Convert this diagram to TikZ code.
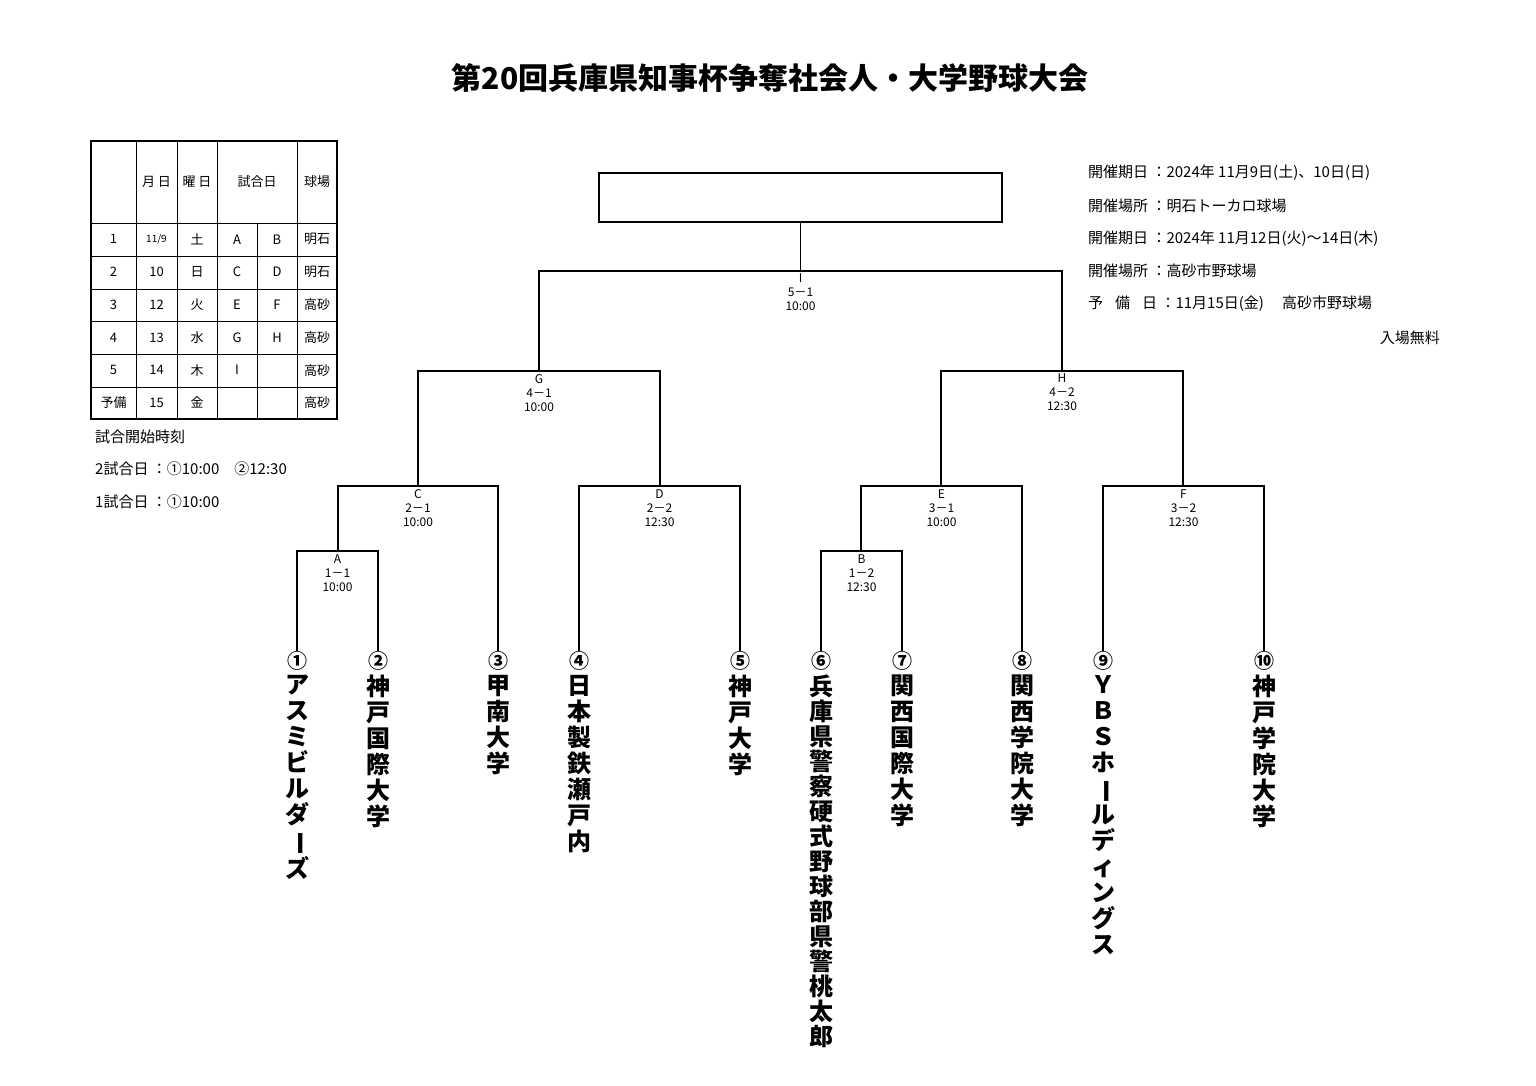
\documentclass[tikz,border=0pt]{standalone}
\usepackage{fontspec}
\setmainfont{Noto Sans CJK JP}
\usepackage{graphicx}
\newcommand{\vb}{\rotatebox[origin=c]{-90}{ー}}
\begin{document}
\begin{tikzpicture}[x=1pt,y=-1pt,
 ln/.style={line width=1.2pt,line cap=rect},
 lab/.style={font=\fontsize{12}{14}\selectfont,align=center,anchor=north,inner sep=0pt},
 team/.style={font=\fontsize{24}{26}\selectfont\bfseries,align=center,anchor=north,inner sep=0pt},
 cn/.style={font=\fontsize{20}{22}\selectfont\bfseries,inner sep=0pt},
 info/.style={font=\fontsize{15}{17}\selectfont,anchor=west,inner sep=0pt},
 cell/.style={font=\fontsize{13}{15}\selectfont,inner sep=0pt}]
\useasboundingbox (0,0) rectangle (1536,1086);
\fill[white] (0,0) rectangle (1536,1086);
\node[font=\fontsize{30}{32}\selectfont\bfseries] (title) at (770,78) {第20回兵庫県知事杯争奪社会人・大学野球大会};
% final box
\draw[ln] (599,173) rectangle (1002,222);
\coordinate (top) at (800,222);
% team coordinates
\foreach \i/\x in {1/297,2/378,3/498,4/579,5/740,6/821,7/902,8/1022,9/1103,10/1264}{
  \coordinate (t\i) at (\x,650);
}
% brackets: name, left x, right x, y, top y, label
\newcommand{\brk}[7]{%
  \draw[ln] (#2,#6) -- (#2,#4) -- (#3,#4) -- (#3,#6);
  \draw[ln] ({(#2+#3)/2},#4) -- ({(#2+#3)/2},#5);
  \node[lab] (#1) at ({(#2+#3)/2},#4+3) {#7};}
\brk{mA}{297}{378}{551}{486}{650}{A\\1－1\\10:00}
\brk{mB}{821}{902}{551}{486}{650}{B\\1－2\\12:30}
\brk{mC}{338}{498}{486}{371}{551}{C\\2－1\\10:00}
\draw[ln] (498,551) -- (498,650);
\brk{mD}{579}{740}{486}{371}{650}{D\\2－2\\12:30}
\brk{mE}{861}{1022}{486}{371}{551}{E\\3－1\\10:00}
\draw[ln] (1022,551) -- (1022,650);
\brk{mF}{1103}{1264}{486}{371}{650}{F\\3－2\\12:30}
\brk{mG}{418}{660}{371}{271}{486}{G\\4－1\\10:00}
\brk{mH}{941}{1183}{371}{271}{486}{H\\4－2\\12:30}
\brk{mI}{539}{1062}{271}{222}{371}{I\\5－1\\10:00}
% circled numbers
\foreach \i/\x/\c in {1/297/①,2/378/②,3/498/③,4/579/④,5/740/⑤,6/821/⑥,7/902/⑦,8/1022/⑧,9/1103/⑨,10/1264/⑩}{
  \node[cn] (c\i) at (\x,661) {\c};
}
\begin{scope}[every node/.style={team}]
\node (n1) at (297,675) {ア\\ス\\ミ\\ビ\\ル\\ダ\\\vb\\ズ};
\node (n2) at (378,675) {神\\戸\\国\\際\\大\\学};
\node (n3) at (498,675) {甲\\南\\大\\学};
\node (n4) at (579,675) {日\\本\\製\\鉄\\瀬\\戸\\内};
\node (n5) at (740,675) {神\\戸\\大\\学};
\node[font=\fontsize{24}{25}\selectfont\bfseries] (n6) at (821,675) {兵\\庫\\県\\警\\察\\硬\\式\\野\\球\\部\\県\\警\\桃\\太\\郎};
\node (n7) at (902,675) {関\\西\\国\\際\\大\\学};
\node (n8) at (1022,675) {関\\西\\学\\院\\大\\学};
\node (n9) at (1103,675) {Ｙ\\Ｂ\\Ｓ\\ホ\\\vb\\ル\\デ\\ィ\\ン\\グ\\ス};
\node (n10) at (1264,675) {神\\戸\\学\\院\\大\\学};
\end{scope}
% info
\node[info] (i1) at (1088,173) {開催期日 ：2024年 11月9日(土)、10日(日)};
\node[info] (i2) at (1088,206) {開催場所 ：明石トーカロ球場};
\node[info] (i3) at (1088,239) {開催期日 ：2024年 11月12日(火)～14日(木)};
\node[info] (i4) at (1088,271) {開催場所 ：高砂市野球場};
\node[info] (i5) at (1088,304) {予\hspace{0.8em}備\hspace{0.8em}日 ：11月15日(金)\hspace{1.2em}高砂市野球場};
\node[info,anchor=east] (i6) at (1440,338) {入場無料};
% table
\draw[line width=1.2pt] (91,141) rectangle (337,419);
\foreach \y in {223,256,289,321,354,387} \draw[line width=1pt] (91,\y) -- (337,\y);
\foreach \x in {136,177,217,297} \draw[line width=1pt] (\x,141) -- (\x,419);
\draw[line width=1pt] (257,223) -- (257,419);
\node[cell] (h1) at (156.5,182) {月 日};
\node[cell] (h2) at (197,182) {曜 日};
\node[cell] (h3) at (257,182) {試合日};
\node[cell] (h4) at (317,182) {球場};
\foreach \r/\a/\b/\c/\d/\e/\f [count=\k] in {1/{\fontsize{10}{12}\selectfont 11/9}/土/A/B/明石, 2/10/日/C/D/明石, 3/12/火/E/F/高砂, 4/13/水/G/H/高砂, 5/14/木/I/{}/高砂, 予備/15/金/{}/{}/高砂}{
  \pgfmathsetmacro\yy{223+32.7*(\k-1)+16.3}
  \node[cell] at (113.5,\yy) {\r};
  \node[cell] at (156.5,\yy) {\a};
  \node[cell] at (197,\yy) {\b};
  \node[cell] at (237,\yy) {\c};
  \node[cell] at (277,\yy) {\d};
  \node[cell] at (317,\yy) {\e};
}
\node[info] (s1) at (95,437) {試合開始時刻};
\node[info] (s2) at (95,469) {2試合日 ：①10:00\hspace{1em}②12:30};
\node[info] (s3) at (95,502) {1試合日 ：①10:00};
\end{tikzpicture}
\end{document}
